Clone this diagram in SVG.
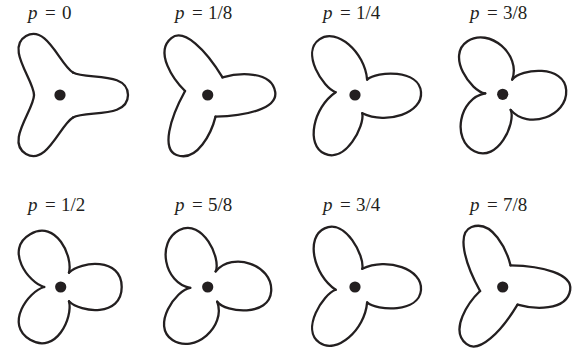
<svg xmlns="http://www.w3.org/2000/svg" xmlns:xlink="http://www.w3.org/1999/xlink" width="579" height="352" viewBox="0 0 579 352">
<style>
.lobe{fill:none;stroke:#231f20;stroke-width:2.3;stroke-linecap:round;stroke-linejoin:round}
.dot{fill:#231f20}
text{font-family:'Liberation Serif','Times New Roman',serif;font-size:19px;fill:#231f20}
.it{font-style:italic}
</style>
<defs>
<path id="l0" class="lobe" d="M13,-22.5 C26,-15 68,-24 68,0 C68,24 26,15 13,22.5"/>
<path id="l1" class="lobe" d="M14.8,-17.6 C30,-22 64,-25 67.5,-3 C70,13 40,21 7.83,21.63"/>
<path id="l2" class="lobe" d="M12.1,-15.4 C22,-24 64,-26 66,-3 C68,18 32,30 7.27,18.18"/>
<path id="l3" class="lobe" d="M9.5,-14.7 C18,-26 62,-30 63.5,-4 C65,22 25,36 7.97,15.58"/>
<path id="l4" class="lobe" d="M8.25,-14.3 C20,-26 61,-30 61,0 C61,30 20,26 8.25,14.3"/>
<g id="s0"><use xlink:href="#l0"/><use xlink:href="#l0" transform="rotate(120)"/><use xlink:href="#l0" transform="rotate(240)"/><circle class="dot" r="5.6"/></g>
<g id="s1"><use xlink:href="#l1"/><use xlink:href="#l1" transform="rotate(120)"/><use xlink:href="#l1" transform="rotate(240)"/><circle class="dot" r="5.6"/></g>
<g id="s2"><use xlink:href="#l2"/><use xlink:href="#l2" transform="rotate(120)"/><use xlink:href="#l2" transform="rotate(240)"/><circle class="dot" r="5.6"/></g>
<g id="s3"><use xlink:href="#l3"/><use xlink:href="#l3" transform="rotate(120)"/><use xlink:href="#l3" transform="rotate(240)"/><circle class="dot" r="5.6"/></g>
<g id="s4"><use xlink:href="#l4"/><use xlink:href="#l4" transform="rotate(120)"/><use xlink:href="#l4" transform="rotate(240)"/><circle class="dot" r="5.6"/></g>
</defs>
<g id="p0"><use xlink:href="#s0" transform="translate(60,95)"/><text x="28" y="18.5"><tspan class="it">p</tspan><tspan x="45">=</tspan><tspan x="62">0</tspan></text></g>
<g id="p1-8"><use xlink:href="#s1" transform="translate(207.7,95)"/><text x="175" y="18.5"><tspan class="it">p</tspan><tspan x="192">=</tspan><tspan x="208">1/8</tspan></text></g>
<g id="p1-4"><use xlink:href="#s2" transform="translate(355,95)"/><text x="323" y="18.5"><tspan class="it">p</tspan><tspan x="340">=</tspan><tspan x="356">1/4</tspan></text></g>
<g id="p3-8"><use xlink:href="#s3" transform="translate(502.7,94.3)"/><text x="470" y="18.5"><tspan class="it">p</tspan><tspan x="487">=</tspan><tspan x="503">3/8</tspan></text></g>
<g id="p1-2"><use xlink:href="#s4" transform="translate(60.7,287)"/><text x="28" y="211"><tspan class="it">p</tspan><tspan x="45">=</tspan><tspan x="61">1/2</tspan></text></g>
<g id="p5-8"><use xlink:href="#s3" transform="translate(207.7,287) scale(1,-1)"/><text x="175" y="211"><tspan class="it">p</tspan><tspan x="192">=</tspan><tspan x="208">5/8</tspan></text></g>
<g id="p3-4"><use xlink:href="#s2" transform="translate(355,287) scale(1,-1)"/><text x="323" y="211"><tspan class="it">p</tspan><tspan x="340">=</tspan><tspan x="356">3/4</tspan></text></g>
<g id="p7-8"><use xlink:href="#s1" transform="translate(502.7,287) scale(1,-1)"/><text x="470" y="211"><tspan class="it">p</tspan><tspan x="487">=</tspan><tspan x="503">7/8</tspan></text></g>
<g id="connectors"/>
</svg>
